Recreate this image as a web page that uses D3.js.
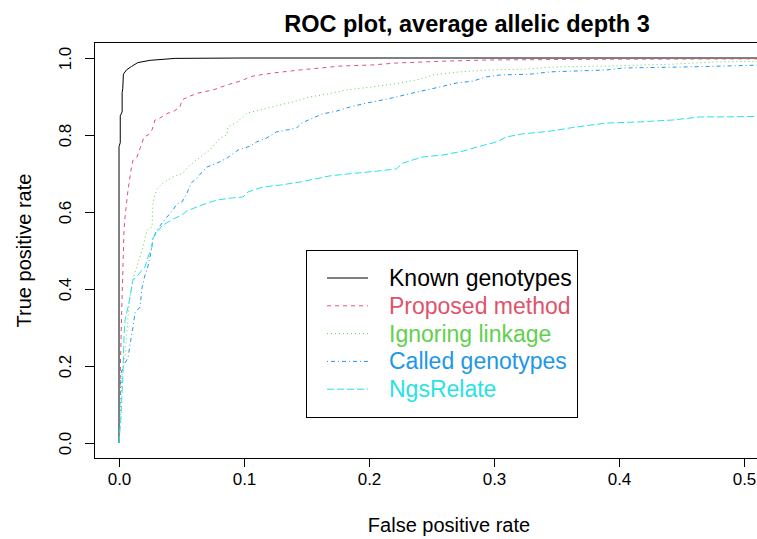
<!DOCTYPE html>
<html lang="en">
  <head>
    <meta charset="utf-8">
    <script type="text/javascript" src="https://cdnjs.cloudflare.com/ajax/libs/d3/7.8.5/d3.min.js"></script>
    <style>
    body { margin: 0; background: #fff; }
    text { font-family: "Liberation Sans", Arial, Helvetica, sans-serif; fill: #000; }
    .curve { fill: none; stroke-width: 1; }
    </style>
  </head>
<body>
<script type="text/javascript">

///////// data, [false positive rate, true positive rate]

var knownGenotypes = [[0,0],[0,0.77],[0.001,0.78],[0.001,0.85],[0.0025,0.86],[0.0025,0.91],[0.003,0.92],
  [0.0035,0.958],[0.006,0.969],[0.01,0.978],[0.015,0.988],[0.025,0.994],[0.045,0.999],[0.1,1],[0.55,1]];

var proposedMethod = [[0,0],[0.0008,0.156],[0.0024,0.371],[0.004,0.553],[0.0048,0.587],[0.0072,0.657],
  [0.0096,0.709],[0.0112,0.735],[0.0144,0.743],[0.0184,0.779],[0.02,0.795],[0.0232,0.8],[0.0264,0.813],
  [0.0288,0.839],[0.0328,0.844],[0.0392,0.857],[0.0432,0.86],[0.0488,0.873],[0.0504,0.891],[0.0552,0.899],
  [0.0632,0.909],[0.0752,0.917],[0.0864,0.93],[0.0968,0.94],[0.107,0.953],[0.123,0.961],[0.145,0.969],
  [0.177,0.979],[0.203,0.982],[0.222,0.987],[0.262,0.992],[0.297,0.995],[0.403,0.997],[0.55,0.998]];

var ignoringLinkage = [[0,0],[0.0008,0.06],[0.0024,0.182],[0.0048,0.223],[0.0072,0.327],[0.0088,0.382],
  [0.0112,0.426],[0.0152,0.468],[0.0192,0.509],[0.0224,0.553],[0.0264,0.561],[0.0272,0.626],[0.0304,0.66],
  [0.0352,0.675],[0.0432,0.691],[0.0512,0.701],[0.0552,0.717],[0.0632,0.738],[0.0728,0.761],[0.0808,0.792],
  [0.0864,0.8],[0.0872,0.821],[0.0944,0.834],[0.1024,0.857],[0.1128,0.865],[0.1288,0.878],[0.139,0.886],
  [0.153,0.899],[0.166,0.906],[0.182,0.917],[0.203,0.925],[0.225,0.935],[0.241,0.945],[0.251,0.956],
  [0.273,0.964],[0.297,0.969],[0.323,0.971],[0.35,0.977],[0.39,0.979],[0.443,0.984],[0.478,0.99],[0.55,0.993]];

var calledGenotypes = [[0,0],[0.0008,0.112],[0.0016,0.182],[0.0048,0.208],[0.0072,0.221],[0.0088,0.255],
  [0.0112,0.301],[0.0128,0.338],[0.0168,0.353],[0.0184,0.403],[0.0208,0.436],[0.0232,0.46],[0.0256,0.496],
  [0.0272,0.532],[0.0304,0.553],[0.0344,0.571],[0.0384,0.587],[0.0432,0.605],[0.0464,0.621],[0.0504,0.626],
  [0.0544,0.649],[0.0576,0.675],[0.0624,0.688],[0.0664,0.704],[0.0704,0.717],[0.0784,0.727],[0.0864,0.74],
  [0.0952,0.761],[0.105,0.771],[0.11,0.782],[0.118,0.792],[0.126,0.808],[0.134,0.813],[0.142,0.818],
  [0.146,0.831],[0.155,0.844],[0.163,0.855],[0.174,0.862],[0.185,0.873],[0.198,0.883],[0.211,0.891],
  [0.222,0.899],[0.235,0.909],[0.246,0.917],[0.257,0.925],[0.27,0.935],[0.283,0.94],[0.294,0.951],
  [0.305,0.956],[0.329,0.958],[0.345,0.964],[0.39,0.969],[0.403,0.974],[0.457,0.977],[0.483,0.979],[0.55,0.985]];

var ngsRelate = [[0,0],[0.0008,0.034],[0.0016,0.068],[0.0032,0.182],[0.004,0.275],[0.0048,0.319],
  [0.0072,0.353],[0.0088,0.379],[0.0112,0.423],[0.0152,0.436],[0.0184,0.449],[0.0208,0.457],[0.0232,0.483],
  [0.0264,0.509],[0.0272,0.532],[0.0304,0.548],[0.0344,0.564],[0.0392,0.574],[0.0448,0.584],[0.0504,0.592],
  [0.0544,0.603],[0.0624,0.613],[0.0704,0.623],[0.0784,0.631],[0.0888,0.636],[0.0992,0.639],[0.1032,0.652],
  [0.115,0.665],[0.129,0.67],[0.145,0.678],[0.169,0.694],[0.19,0.701],[0.206,0.706],[0.222,0.712],
  [0.227,0.727],[0.243,0.743],[0.259,0.748],[0.275,0.758],[0.289,0.771],[0.302,0.782],[0.31,0.795],
  [0.323,0.803],[0.345,0.81],[0.366,0.821],[0.39,0.831],[0.417,0.834],[0.443,0.839],[0.465,0.847],
  [0.483,0.847],[0.55,0.85]];

var seriesNames = ["Known genotypes", "Proposed method", "Ignoring linkage", "Called genotypes", "NgsRelate"];
var xTicks = [0, 0.1, 0.2, 0.3, 0.4, 0.5];
var yTicks = [0, 0.2, 0.4, 0.6, 0.8, 1.0];

// R palette colours and lty 1..5
var colors = ["#000000", "#DF536B", "#61D04F", "#2297E6", "#28E2E5"];
var dashes = ["none", "4,4", "1,3", "1,3,4,3", "7,3"];

var series = [knownGenotypes, proposedMethod, ignoringLinkage, calledGenotypes, ngsRelate];

////////////////// plot

var width = 757, height = 539;

var x = d3.scaleLinear().domain([0, 0.5]).range([119, 744]),
    y = d3.scaleLinear().domain([0, 1]).range([443, 58]);

// plot box extends 4% past the data range, like R
var box = {left: x(-0.02), right: x(0.52), top: y(1.04), bottom: y(-0.04)};

var svg = d3.select("body").append("svg")
    .attr("width", width)
    .attr("height", height);

svg.append("defs").append("clipPath")
    .attr("id", "clip")
  .append("rect")
    .attr("x", box.left)
    .attr("y", box.top)
    .attr("width", box.right - box.left)
    .attr("height", box.bottom - box.top);

var line = d3.line()
    .x(function(d) { return x(d[0]); })
    .y(function(d) { return y(d[1]); });

var curves = svg.append("g").attr("clip-path", "url(#clip)");
curves.selectAll(".curve")
    .data(series)
    .enter().append("path")
    .attr("class", "curve")
    .attr("d", line)
    .attr("stroke", function(d, i) { return colors[i]; })
    .attr("stroke-dasharray", function(d, i) { return dashes[i]; });

svg.append("rect")
    .attr("x", box.left)
    .attr("y", box.top)
    .attr("width", box.right - box.left)
    .attr("height", box.bottom - box.top)
    .attr("fill", "none")
    .attr("stroke", "#000")
    .attr("shape-rendering", "crispEdges");

var xAxis = d3.axisBottom(x).tickValues(xTicks).tickFormat(d3.format(".1f"))
    .tickSize(9).tickSizeOuter(0).tickPadding(6);
var yAxis = d3.axisLeft(y).tickValues(yTicks).tickFormat(d3.format(".1f"))
    .tickSize(9).tickSizeOuter(0);

var gx = svg.append("g")
    .attr("transform", "translate(0," + box.bottom + ")")
    .call(xAxis);
gx.selectAll("text").attr("font-size", 17).attr("fill", "#000");

var gy = svg.append("g")
    .attr("transform", "translate(" + box.left + ",0)")
    .call(yAxis);
// rotated tick labels, las = 0
gy.selectAll("text")
    .attr("font-size", 17)
    .attr("fill", "#000")
    .attr("text-anchor", "middle")
    .attr("x", null).attr("dy", null)
    .attr("transform", function(d) { return "translate(" + (71 - box.left) + ",0) rotate(-90)"; });

svg.selectAll(".domain, .tick line")
    .attr("stroke", "#000")
    .attr("shape-rendering", "crispEdges");

svg.append("text")
    .attr("x", 467)
    .attr("y", 32)
    .attr("text-anchor", "middle")
    .attr("font-weight", "bold")
    .attr("font-size", 23.5)
    .text("ROC plot, average allelic depth 3");

svg.append("text")
    .attr("x", 449)
    .attr("y", 532)
    .attr("text-anchor", "middle")
    .attr("font-size", 20)
    .text("False positive rate");

svg.append("text")
    .attr("transform", "translate(31," + ((box.top + box.bottom) / 2) + ") rotate(-90)")
    .attr("text-anchor", "middle")
    .attr("font-size", 20)
    .text("True positive rate");

// legend
var legend = svg.append("g");
legend.append("rect")
    .attr("x", 306).attr("y", 250)
    .attr("width", 271).attr("height", 167)
    .attr("fill", "#fff")
    .attr("stroke", "#000")
    .attr("shape-rendering", "crispEdges");

var rows = legend.selectAll(".row")
    .data(seriesNames)
    .enter().append("g")
    .attr("class", "row")
    .attr("transform", function(d, i) { return "translate(0," + (278 + i * 27.8) + ")"; });

rows.append("line")
    .attr("x1", 327).attr("x2", 368)
    .attr("stroke", function(d, i) { return colors[i]; })
    .attr("stroke-dasharray", function(d, i) { return dashes[i]; });

rows.append("text")
    .attr("x", 389)
    .attr("dy", "0.35em")
    .attr("font-size", 23)
    .style("fill", function(d, i) { return colors[i]; })
    .text(function(d) { return d; });

</script>
</body>
</html>
